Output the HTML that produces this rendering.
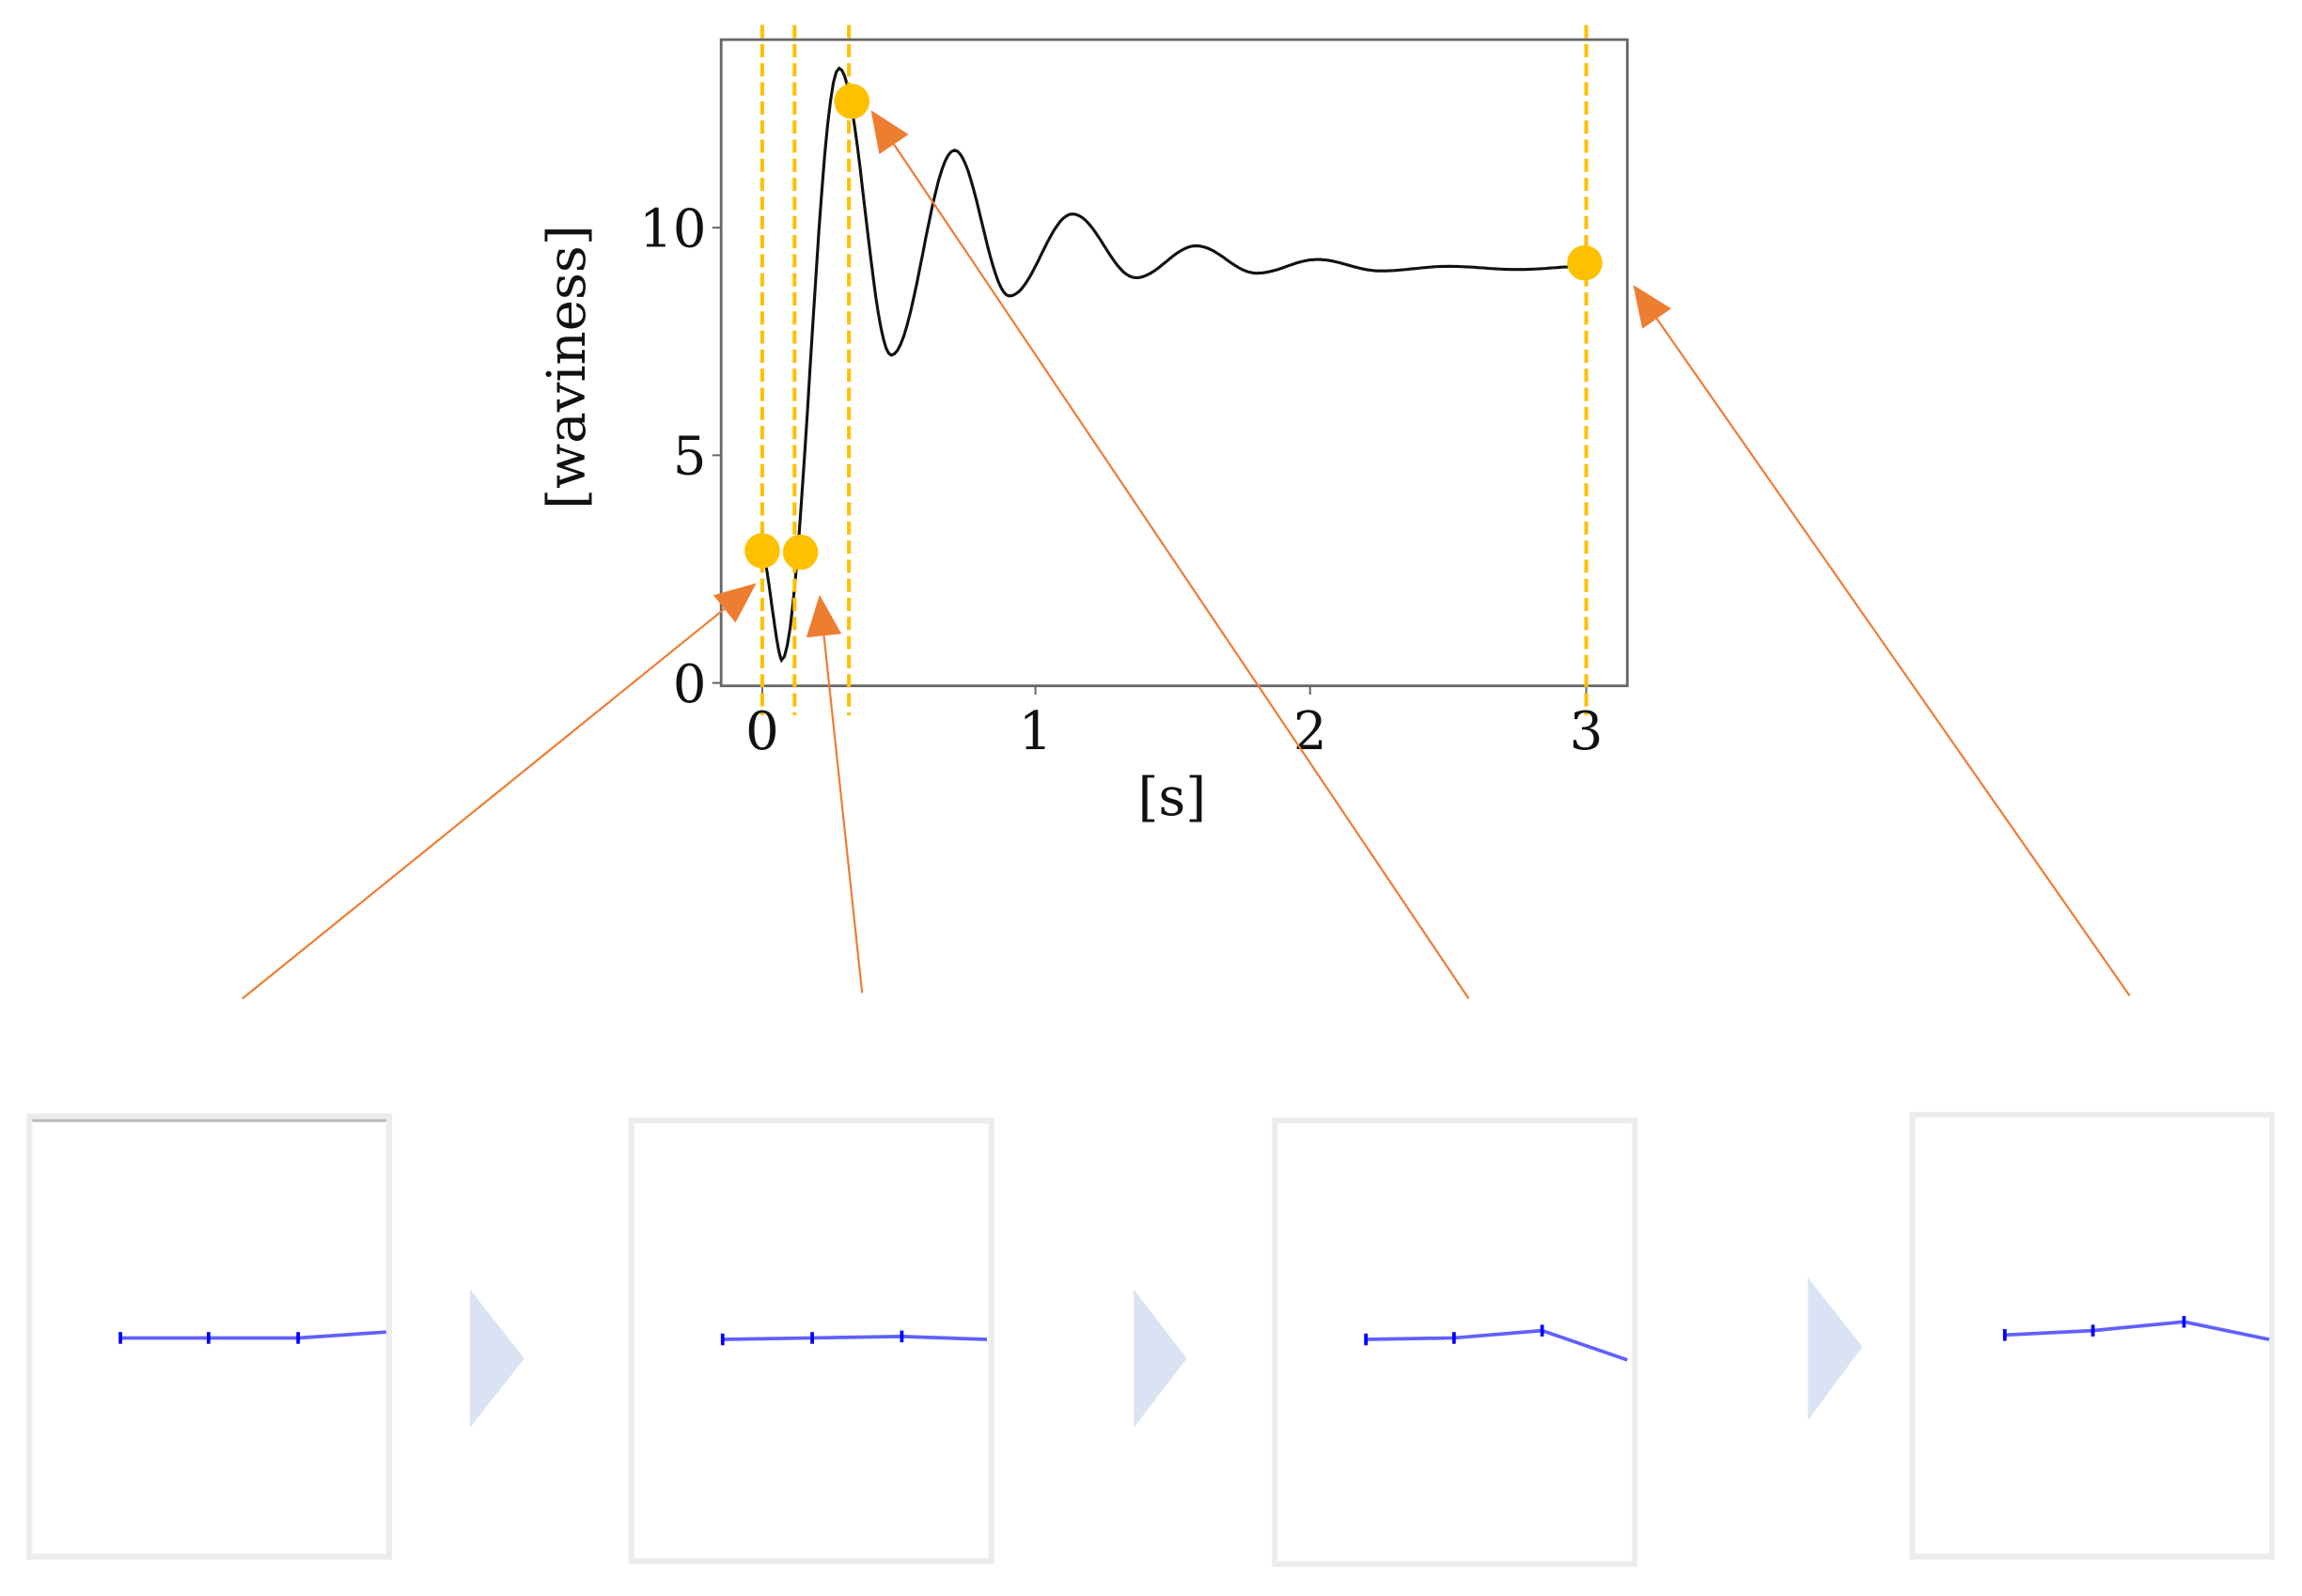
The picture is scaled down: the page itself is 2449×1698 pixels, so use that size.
<!DOCTYPE html>
<html><head><meta charset="utf-8"><style>
html,body{margin:0;padding:0;background:#fff;}
svg{display:block;}
text{font-family:"DejaVu Serif","Liberation Serif",serif;fill:#111;}
</style></head><body>
<svg id="s" width="2449" height="1698" viewBox="0 0 2449 1698" xmlns="http://www.w3.org/2000/svg">
<g transform="scale(1.5625)" id="g">
  <rect x="491" y="27" width="617" height="440" fill="none" stroke="#666" stroke-width="1.8"/>
  <g stroke="#666" stroke-width="1.3">
    <line x1="485" y1="465" x2="491" y2="465"/><line x1="485" y1="310" x2="491" y2="310"/><line x1="485" y1="155" x2="491" y2="155"/>
    <line x1="519" y1="467" x2="519" y2="473"/><line x1="705" y1="467" x2="705" y2="473"/><line x1="892" y1="467" x2="892" y2="473"/><line x1="1080" y1="467" x2="1080" y2="473"/>
  </g>
  <path id="curve" fill="none" stroke="#111" stroke-width="2"/>
  <g stroke="#FFC000" stroke-width="2.6" stroke-dasharray="9,4">
    <line x1="519" y1="17" x2="519" y2="487"/>
    <line x1="541" y1="17" x2="541" y2="487"/>
    <line x1="578" y1="17" x2="578" y2="487"/>
    <line x1="1080" y1="17" x2="1080" y2="487"/>
  </g>
  <g fill="#FFC000">
    <circle cx="519" cy="375" r="12"/><circle cx="545" cy="376" r="12"/>
    <circle cx="580" cy="69" r="12"/><circle cx="1079" cy="179" r="12"/>
  </g>
  <g font-size="36" text-anchor="end">
    <text x="481" y="478">0</text><text x="481" y="323">5</text><text x="481" y="168">10</text>
  </g>
  <g font-size="36" text-anchor="middle">
    <text x="519" y="510">0</text><text x="705" y="510">1</text><text x="892" y="510">2</text><text x="1080" y="510">3</text>
    <text x="798" y="555">[s]</text>
    <text transform="translate(398,250) rotate(-90)">[waviness]</text>
  </g>
  <g id="arrows"></g>
  <g fill="#fff" stroke="#ececec" stroke-width="4">
    <rect x="20" y="760" width="245" height="300"/>
    <rect x="430" y="763" width="245" height="300"/>
    <rect x="868" y="763" width="245" height="302"/>
    <rect x="1302" y="759" width="245" height="301"/>
  </g>
  <line x1="22" y1="763" x2="263" y2="763" stroke="#bbb" stroke-width="2"/>
  <g fill="#DAE3F3">
    <polygon points="320,878 357,925 320,972"/>
    <polygon points="772,878 808,925 772,972"/>
    <polygon points="1231,870 1268,917 1231,967"/>
  </g>
  <g fill="none" stroke="#4444ff" stroke-width="2.4" stroke-opacity="0.85">
    <polyline points="82,911 142,911 203,911 263,907"/>
    <polyline points="492,912 553,911 614,910 672,912"/>
    <polyline points="930,912 990,911 1050,906 1108,926"/>
    <polyline points="1365,909 1425,906 1487,900 1545,912"/>
  </g>
  <g fill="#0000ff" id="dots"></g>
</g>
</svg>
<script>
(function(){
var X=function(t){return 519+187*t;},Y=function(v){return 465-31*v;};
var k=[[0,2.9],[0.07,0.5],[0.28,13.5],[0.47,7.2],[0.7,11.7],[0.9,8.5],[1.13,10.3],[1.36,8.9],[1.58,9.6],[1.8,9.0],[2.02,9.3],[2.25,9.05],[2.5,9.15],[2.75,9.08],[3.0,9.15],[3.05,9.15]];
var d="M"+X(0)+","+Y(2.9);
for(var i=0;i<k.length-1;i++){var a=k[i],b=k[i+1];
 for(var j=1;j<=20;j++){var f=j/20,w=(1-Math.cos(Math.PI*f))/2;
  if(i==0) w=f*f*(3-2*f)*0.6+f*0.4;
  var t=a[0]+(b[0]-a[0])*f,v=a[1]+(b[1]-a[1])*w;d+=" L"+X(t).toFixed(1)+","+Y(v).toFixed(1);}}
document.getElementById('curve').setAttribute('d',d);
var ar=[[165,680,515,397],[587,676,558,405],[1000,680,593,75],[1450,678,1112,194]];
var h='';ar.forEach(function(r){var dx=r[2]-r[0],dy=r[3]-r[1],L=Math.hypot(dx,dy),ux=dx/L,uy=dy/L,len=28,wd=12;
 var bx=r[2]-ux*len,by=r[3]-uy*len;
 h+='<line x1="'+r[0]+'" y1="'+r[1]+'" x2="'+bx+'" y2="'+by+'" stroke="#ED7D31" stroke-width="1.4"/>';
 h+='<polygon fill="#ED7D31" points="'+r[2]+','+r[3]+' '+(bx-uy*wd)+','+(by+ux*wd)+' '+(bx+uy*wd)+','+(by-ux*wd)+'"/>';});
document.getElementById('arrows').innerHTML=h;
var pts=[[82,911],[142,911],[203,911],[492,912],[553,911],[614,910],[930,912],[990,911],[1050,906],[1365,909],[1425,906],[1487,900]];
var s='';pts.forEach(function(p){s+='<rect x="'+(p[0]-1.2)+'" y="'+(p[1]-4)+'" width="2.4" height="8"/>';});
document.getElementById('dots').innerHTML=s;
})();
</script>
</body></html>
